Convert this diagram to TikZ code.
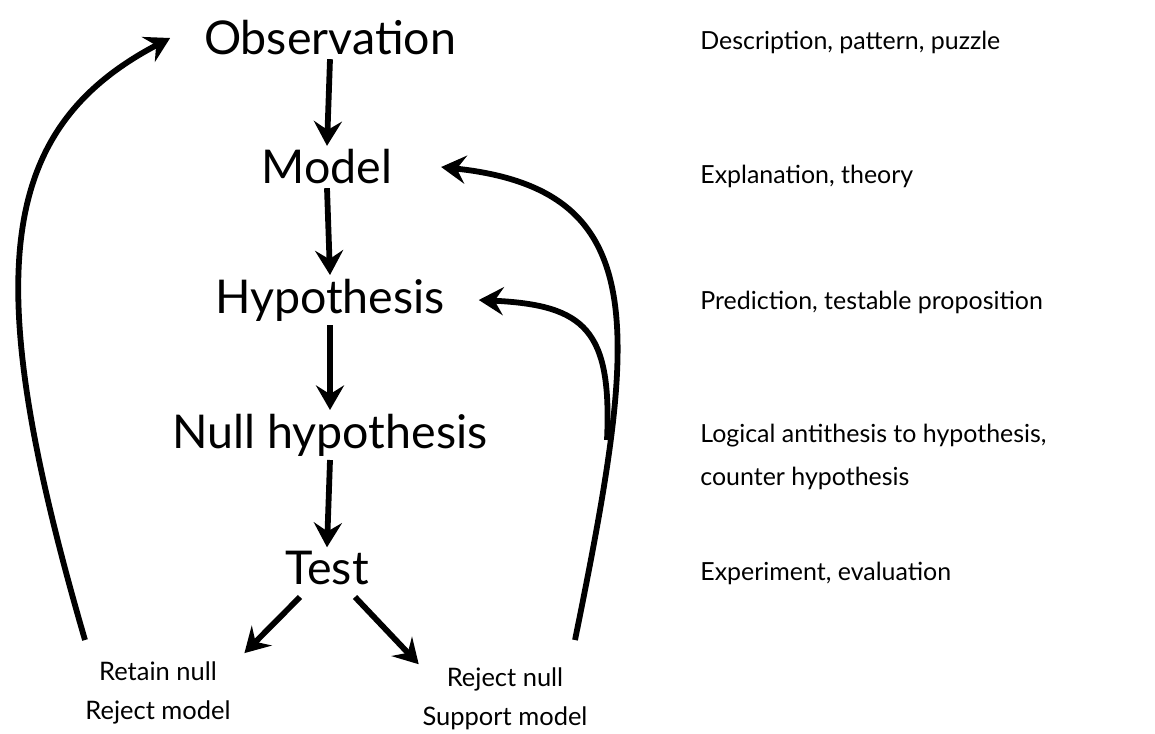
\documentclass[tikz,border=0pt]{standalone}
\usepackage{fontspec}
\setmainfont{Lato}
\usetikzlibrary{arrows.meta}
\begin{document}
\begin{tikzpicture}[x=0.02cm, y=-0.02cm,
	stage/.style={inner sep=2pt, font=\fontsize{26.5}{30}\selectfont},
	note/.style={anchor=west, inner sep=0pt, align=left, font=\fontsize{14.2}{24.5}\selectfont},
	outcome/.style={inner sep=2pt, align=center, font=\fontsize{14.5}{22}\selectfont},
	arr/.style={line width=3.3pt, -{Stealth[length=14pt, width=16pt, inset=5pt]}}]
		\useasboundingbox (0,0) rectangle (1155,733);
		% main chain
		\draw (330,38) node[stage] (O) {Observation};
		\draw (327,167) node[stage] (M) {Model};
		\draw (330,300) node[stage] (H) {Hypothesis};
		\draw (330,435) node[stage] (N) {Null hypothesis};
		\draw (327,568) node[stage] (T) {Test};
		\draw (158,693) node[outcome] (R) {Retain null\\Reject model};
		\draw (505,699) node[outcome] (S) {Reject null\\Support model};
		% right column
		\draw (700,42) node[note] (dO) {Description, pattern, puzzle};
		\draw (700,176) node[note] (dM) {Explanation, theory};
		\draw (700,302) node[note] (dH) {Prediction, testable proposition};
		\draw (700,457) node[note] (dN) {Logical antithesis to hypothesis,\\counter hypothesis};
		\draw (700,573) node[note] (dT) {Experiment, evaluation};
		% free ends of the feedback curves
		\coordinate (rl) at (85,640);
		\coordinate (rs) at (575,640);
		\coordinate (br) at (607,440);
		\coordinate (tl) at (300,597);
		\coordinate (tr) at (355,597);
		\draw[arr] (O.south) -- (M.north);
		\draw[arr] (M.south) -- (H.north);
		\draw[arr] (H.south) -- (N.north);
		\draw[arr] (N.south) -- (T.north);
		\draw[arr] (tl) -- ([xshift=0.2cm, yshift=0.1cm]R.north east);
		\draw[arr] (tr) -- (S.north west);
		\draw[arr] (rl) .. controls (-20,280) and (-5,130) .. ([xshift=-0.6cm]O.west);
		\draw[arr] (rs) .. controls (638,330) and (655,190) .. ([xshift=0.9cm]M.east);
		\draw[arr] (br) .. controls (612,330) and (585,305) .. ([xshift=0.6cm]H.east);
\end{tikzpicture}
\end{document}
